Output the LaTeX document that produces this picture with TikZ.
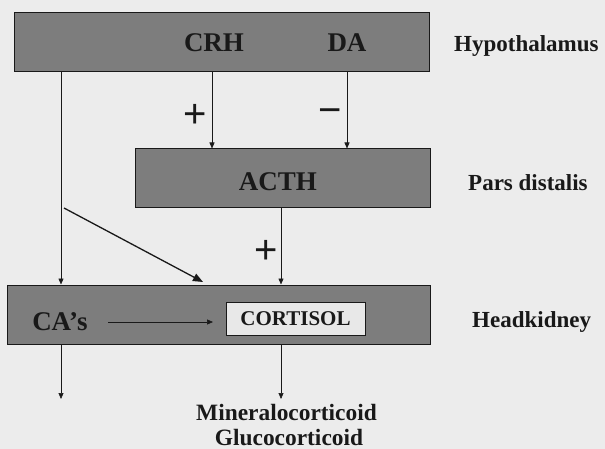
\documentclass[tikz,border=0pt]{standalone}
\usepackage{fontspec}
\setmainfont{Liberation Serif}
\newfontfamily\signfont{Liberation Sans}
\usetikzlibrary{arrows.meta}
\definecolor{boxgray}{RGB}{125,125,125}
\definecolor{paper}{RGB}{236,236,236}
\definecolor{ink}{RGB}{25,25,25}
\definecolor{cortfill}{RGB}{232,232,232}
\tikzset{
  organbox/.style={draw=ink, line width=1pt, fill=boxgray, rectangle, inner sep=0pt},
  hormone/.style={font=\fontsize{27}{30}\selectfont\bfseries, text=ink, inner sep=0pt},
  organlabel/.style={font=\fontsize{23}{26}\selectfont\bfseries, text=ink, anchor=west, inner sep=0pt},
  outlabel/.style={font=\fontsize{23.4}{26}\selectfont\bfseries, text=ink, inner sep=0pt, anchor=base},
  sign/.style={font=\signfont\fontsize{40}{42}\selectfont, text=ink, inner sep=0pt},
  thinarrow/.style={draw=ink, line width=0.6pt, -{Triangle[length=6pt,width=5pt]}},
  thickarrow/.style={draw=ink, line width=1.3pt, -{Triangle[length=10pt,width=8pt]}}
}
\begin{document}
\begin{tikzpicture}[x=1pt,y=-1pt]
\fill[paper] (0,0) rectangle (605,449);
\useasboundingbox (0,0) rectangle (605,449);
% boxes
\node[organbox, minimum width=415pt, minimum height=59pt] (hyp) at (221.5,42.5) {};
\node[organbox, minimum width=295pt, minimum height=59pt] (pd) at (282.5,178.5) {};
\node[organbox, minimum width=423pt, minimum height=59pt] (hk) at (218.5,314.5) {};
\node[draw=ink, line width=1pt, fill=cortfill, minimum width=139pt, minimum height=33pt, inner sep=0pt,
      font=\fontsize{21}{24}\selectfont\bfseries, text=ink] (cort) at (295.5,318.5) {CORTISOL};
% texts
\node[hormone] (crh) at (214,43) {CRH};
\node[hormone] (da) at (347,43) {DA};
\node[hormone] (acth) at (278,182) {ACTH};
\node[hormone] (cas) at (60,322) {CA’s};
\node[organlabel] (lhyp) at (454,46) {Hypothalamus};
\node[organlabel] (lpd) at (468,183) {Pars distalis};
\node[organlabel] (lhk) at (472,322) {Headkidney};
\node[outlabel] (mineral) at (286.5,420) {Mineralocorticoid};
\node[outlabel] (gluco) at (289,445) {Glucocorticoid};
\node[sign] (p1) at (195.5,116) {+};
\node[sign] (m1) at (330,116) {−};
\node[sign] (p2) at (266,252) {+};
% helper coordinates
\coordinate (lx) at (61,0);
\coordinate (cx) at (212,0);
\coordinate (dx) at (347,0);
\coordinate (ax) at (281,0);
\coordinate (dstart) at (64,208);
\coordinate (dend) at (203,282);
\coordinate (casend) at (213,322);
\coordinate (casstart) at (108,322);
\coordinate (out1) at (61,399);
\coordinate (out2) at (281,399);
% connectors
\draw[thinarrow] (hyp.south -| lx) -- (hk.north -| lx);
\draw[thinarrow] (hyp.south -| cx) -- (pd.north -| cx);
\draw[thinarrow] (hyp.south -| dx) -- (pd.north -| dx);
\draw[thinarrow] (pd.south -| ax) -- (hk.north -| ax);
\draw[thickarrow] (dstart) -- (dend);
\draw[thinarrow] (casstart) -- (casend);
\draw[thinarrow] (hk.south -| lx) -- (out1);
\draw[thinarrow] (hk.south -| ax) -- (out2);
\end{tikzpicture}
\end{document}
